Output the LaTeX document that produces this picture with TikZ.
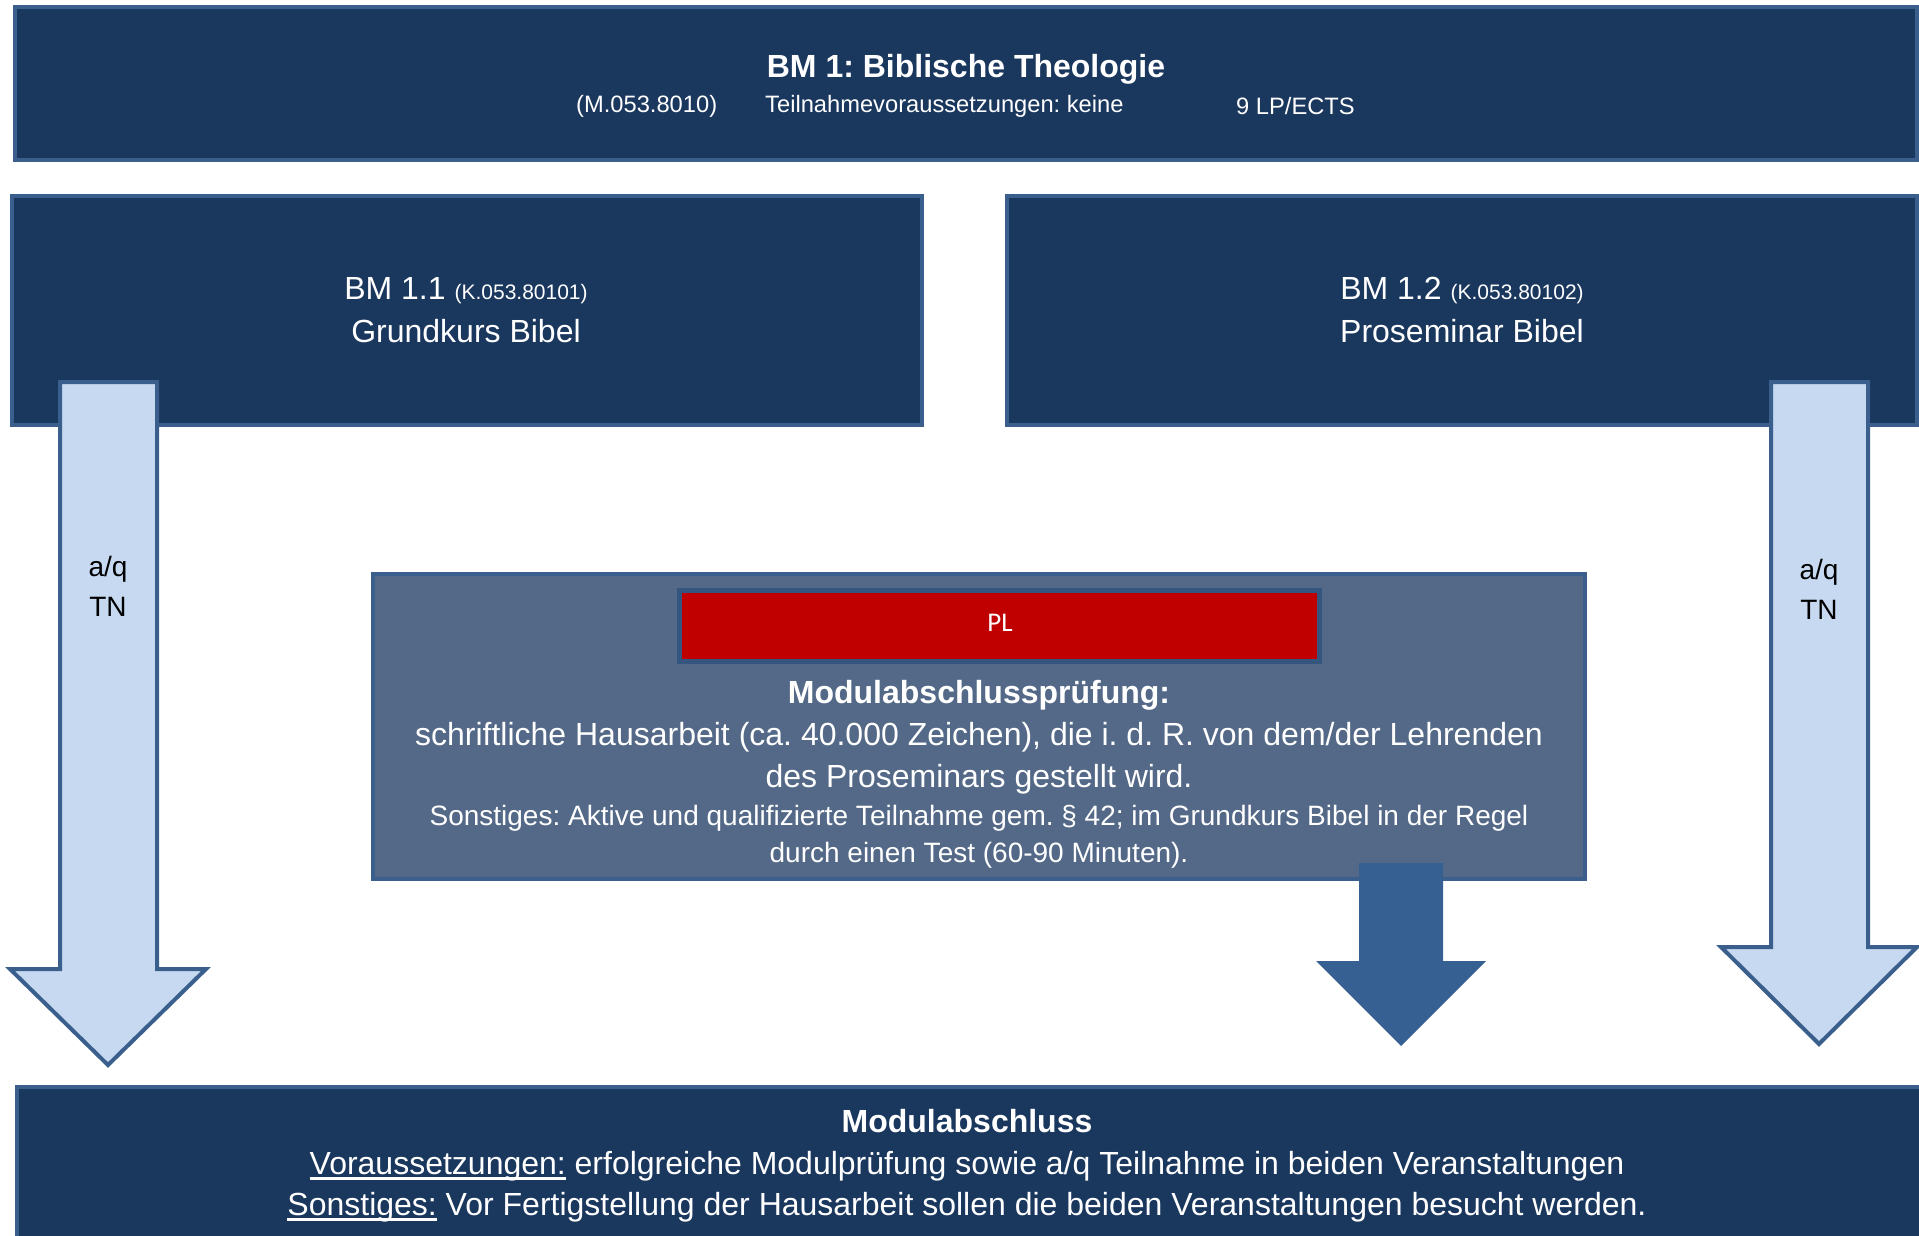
\documentclass[tikz,border=0pt]{standalone}
\usepackage{fontspec}
\setmainfont{Liberation Sans}
\newfontfamily\carl{Carlito}
\definecolor{navy}{HTML}{1A375E}
\definecolor{edge}{HTML}{3A5F8C}
\definecolor{lightfill}{HTML}{C6D9F1}
\definecolor{slate}{HTML}{536987}
\definecolor{midarrow}{HTML}{366092}
\definecolor{plred}{HTML}{C00000}
\newcommand{\fs}[1]{\fontsize{#1}{#1}\selectfont}
\newcommand{\ulx}[1]{\setbox0\hbox{#1}\rlap{\rule[-6pt]{\wd0}{2.8pt}}\box0\relax}
\frenchspacing
\begin{document}
\begin{tikzpicture}[x=1pt,y=-1pt,
  darkbox/.style={rectangle, draw=edge, fill=navy, line width=4pt, inner sep=0pt},
  midbox/.style={rectangle, draw=edge, fill=slate, line width=4pt, inner sep=0pt},
  plbox/.style={rectangle, draw=edge!90!black, fill=plred, line width=5pt, inner sep=0pt},
  lightarrow/.style={draw=edge, fill=lightfill, line width=4pt, line join=miter},
  darkarrow/.style={fill=midarrow, draw=none},
  wtxt/.style={text=white, inner sep=0pt, align=center},
  btxt/.style={text=black, inner sep=0pt, align=center}]
\useasboundingbox (0,0) rectangle (1919,1236);

% boxes
\node[darkbox, minimum width=1902pt, minimum height=153pt] (top) at (966,83.5) {};
\node[darkbox, minimum width=910pt, minimum height=229pt] (bm11) at (467,310.5) {};
\node[darkbox, minimum width=910pt, minimum height=229pt] (bm12) at (1462,310.5) {};
\node[midbox, minimum width=1212pt, minimum height=305pt] (mid) at (979,726.5) {};
\node[plbox, minimum width=640pt, minimum height=71pt] (pl) at (999,625.5) {};
\draw[darkbox] (17,1087) -- (1930,1087) -- (1930,1260) -- (17,1260) -- cycle;

% light arrows
\draw[lightarrow] (60,382) -- (157,382) -- (157,969) -- (206,969) -- (108,1065) -- (10,969) -- (60,969) -- cycle;
\draw[lightarrow] (1771,382) -- (1868,382) -- (1868,947) -- (1917,947) -- (1819,1044) -- (1721,947) -- (1771,947) -- cycle;
% dark arrow
\fill[darkarrow] (1359,863) -- (1443,863) -- (1443,961) -- (1486,961) -- (1401,1046) -- (1316,961) -- (1359,961) -- cycle;

% top texts
\node[wtxt, font=\fs{32}\bfseries] (t1) at (966,69) {BM 1: Biblische Theologie};
\node[wtxt, font=\fs{23.7}, anchor=west] (t2) at (576,106) {(M.053.8010)};
\node[wtxt, font=\fs{23.7}, anchor=west] (t3) at (765,106) {Teilnahmevoraussetzungen: keine};
\node[wtxt, font=\fs{23.7}, anchor=west] (t4) at (1236,106) {9 LP/ECTS};

% course boxes
\node[wtxt, font=\fs{32}] (a1) at (466,291) {BM 1.1 {\fs{21}(K.053.80101)}};
\node[wtxt, font=\fs{32}] (a2) at (466,331) {Grundkurs Bibel};
\node[wtxt, font=\fs{32}] (b1) at (1462,291) {BM 1.2 {\fs{21}(K.053.80102)}};
\node[wtxt, font=\fs{32}] (b2) at (1462,331) {Proseminar Bibel};

% arrow labels
\node[btxt, font=\fs{28}] (l1) at (108,569) {a/q};
\node[btxt, font=\fs{28}] (l2) at (108,607) {TN};
\node[btxt, font=\fs{28}] (r1) at (1819,572) {a/q};
\node[btxt, font=\fs{28}] (r2) at (1819,610) {TN};

% middle texts
\node[wtxt, font=\carl\fs{27}] (plt) at (1000,623) {PL};
\node[wtxt, font=\fs{32}\bfseries] (m1) at (979,695) {Modulabschlussprüfung:};
\node[wtxt, font=\fs{32}] (m2) at (979,737) {schriftliche Hausarbeit (ca. 40.000 Zeichen), die i. d. R. von dem/der Lehrenden};
\node[wtxt, font=\fs{32}] (m3) at (979,779) {des Proseminars gestellt wird.};
\node[wtxt, font=\fs{28}] (m4) at (979,818) {Sonstiges: Aktive und qualifizierte Teilnahme gem. § 42; im Grundkurs Bibel in der Regel};
\node[wtxt, font=\fs{28}] (m5) at (979,855) {durch einen Test (60-90 Minuten).};

% bottom texts
\node[wtxt, font=\fs{32}\bfseries] (c1) at (967,1121) {Modulabschluss};
\node[wtxt, font=\fs{32}] (c2) at (967,1166) {\ulx{Voraussetzungen:} erfolgreiche Modulprüfung sowie a/q Teilnahme in beiden Veranstaltungen};
\node[wtxt, font=\fs{32}] (c3) at (967,1207) {\ulx{Sonstiges:} Vor Fertigstellung der Hausarbeit sollen die beiden Veranstaltungen besucht werden.};
\end{tikzpicture}
\end{document}
